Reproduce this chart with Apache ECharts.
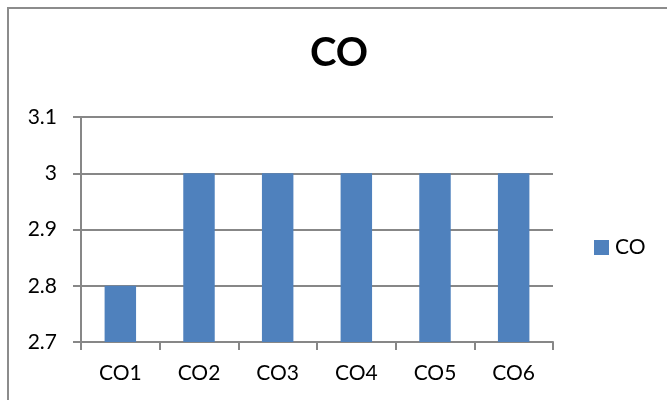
<!DOCTYPE html>
<html>
<head>
<meta charset="utf-8">
<script src="https://cdn.jsdelivr.net/npm/echarts@6/dist/echarts.min.js"></script>
<style>
html,body{margin:0;padding:0;background:#fff;}
#chart{width:667px;height:400px;}
</style>
</head>
<body>
<div id="chart"></div>
<script>
var categories = ['CO1', 'CO2', 'CO3', 'CO4', 'CO5', 'CO6'];
var coValues = [2.8, 3, 3, 3, 3, 3];
var seriesName = 'CO';
var chartTitle = 'CO';

var chart = echarts.init(document.getElementById('chart'));
var font = 'Lato, "Open Sans", sans-serif';
chart.setOption({
  animation: false,
  backgroundColor: '#ffffff',
  graphic: [{
    type: 'rect',
    shape: { x: 8, y: 8, width: 700, height: 500 },
    style: { fill: 'none', stroke: '#8c8c8c', lineWidth: 2 },
    silent: true
  }],
  title: {
    text: chartTitle,
    left: 339,
    top: 33,
    padding: 0,
    textAlign: 'center',
    textStyle: { fontFamily: font, fontWeight: 'bold', fontSize: 40, color: '#000' }
  },
  legend: {
    data: [seriesName],
    orient: 'vertical',
    left: 594,
    top: 237,
    padding: 0,
    itemWidth: 15,
    itemHeight: 15,
    icon: 'rect',
    textStyle: { fontFamily: font, fontSize: 21, color: '#000', padding: [0, 0, 0, 1] }
  },
  grid: { left: 81, right: 114, top: 117, bottom: 58 },
  xAxis: {
    type: 'category',
    data: categories,
    axisLine: { lineStyle: { color: '#878787', width: 2 } },
    axisTick: { show: true, length: 8, lineStyle: { color: '#878787', width: 2 } },
    axisLabel: { fontFamily: font, fontSize: 21, color: '#000', margin: 21 }
  },
  yAxis: {
    type: 'value',
    min: 2.7,
    max: 3.1,
    interval: 0.1,
    axisLine: { show: true, lineStyle: { color: '#878787', width: 2 } },
    axisTick: { show: true, length: 8, lineStyle: { color: '#878787', width: 2 } },
    axisLabel: {
      fontFamily: font, fontSize: 21, color: '#000', margin: 24,
      formatter: function (v) { return String(Math.round(v * 10) / 10); }
    },
    splitLine: { lineStyle: { color: '#878787', width: 2 } }
  },
  series: [{
    name: seriesName,
    type: 'bar',
    data: coValues,
    barWidth: '40%',
    itemStyle: { color: '#4f81bd' }
  }]
});
</script>
</body>
</html>
